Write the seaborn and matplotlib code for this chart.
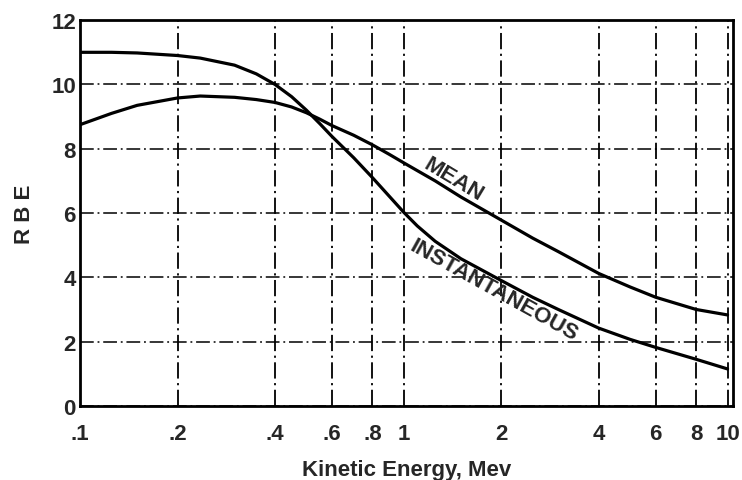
import matplotlib
matplotlib.use("Agg")
import matplotlib.pyplot as plt
import seaborn as sns
import pandas as pd

energy = [0.1, 0.125, 0.15, 0.2, 0.235, 0.3, 0.35, 0.4, 0.45, 0.5, 0.55, 0.6, 0.7, 0.8, 0.9, 1.0, 1.1, 1.25, 1.5, 2.0, 2.5, 3.0, 4.0, 5.0, 6.0, 8.0, 10.0]
mean_rbe = [8.75, 9.1, 9.35, 9.58, 9.64, 9.6, 9.53, 9.44, 9.3, 9.12, 8.92, 8.72, 8.42, 8.12, 7.83, 7.56, 7.32, 7.0, 6.5, 5.78, 5.22, 4.8, 4.12, 3.7, 3.38, 3.0, 2.83]
inst_rbe = [11.0, 11.0, 10.98, 10.9, 10.82, 10.6, 10.33, 10.0, 9.62, 9.2, 8.78, 8.38, 7.72, 7.1, 6.53, 6.02, 5.6, 5.12, 4.58, 3.9, 3.38, 3.0, 2.42, 2.07, 1.82, 1.45, 1.15]

xticks = [0.1, 0.2, 0.4, 0.6, 0.8, 1, 2, 4, 6, 8, 10]
xtick_labels = [".1", ".2", ".4", ".6", ".8", "1", "2", "4", "6", "8", "10"]
yticks = [0, 2, 4, 6, 8, 10, 12]

df = pd.DataFrame({
    "energy": energy * 2,
    "rbe": mean_rbe + inst_rbe,
    "curve": ["MEAN"] * len(energy) + ["INSTANTANEOUS"] * len(energy),
})

sns.set_style("white")
plt.rcParams["font.family"] = ["Liberation Sans", "DejaVu Sans"]
plt.rcParams["font.weight"] = "bold"

fig = plt.figure(figsize=(7.42, 4.81), dpi=100)
ax = fig.add_axes([0.108, 0.154, 0.880, 0.802])

sns.lineplot(data=df, x="energy", y="rbe", hue="curve",
             palette={"MEAN": "black", "INSTANTANEOUS": "black"},
             linewidth=2.3, legend=False, ax=ax, sort=False, estimator=None)

ax.set_xscale("log")
ax.set_xlim(0.1, 10.4)
ax.set_ylim(0, 12)
ax.set_xticks(xticks)
ax.set_xticklabels(xtick_labels)
ax.minorticks_off()
ax.set_yticks(yticks)
ax.tick_params(axis="both", length=0, labelsize=16)
ax.tick_params(axis="x", pad=12)
ax.tick_params(axis="y", pad=3)

for t in xticks:
    ax.axvline(t, color="black", lw=1.3, ls=(0, (9, 2.5, 1.2, 2.5)), zorder=0.5)
for t in yticks:
    ax.axhline(t, color="black", lw=1.1, ls=(0, (9, 2.5, 1.2, 2.5)), zorder=0.5)

for s in ax.spines.values():
    s.set_linewidth(2.0)
    s.set_color("black")

ax.set_xlabel("Kinetic Energy, Mev", fontsize=16, fontweight="bold", labelpad=11)
ax.set_ylabel("R B E", fontsize=16, fontweight="bold", labelpad=12)

ax.text(1.42, 7.05, "MEAN", rotation=-31, fontsize=16, fontweight="bold",
        ha="center", va="center")
ax.text(1.9, 3.6, "INSTANTANEOUS", rotation=-29, fontsize=16, fontweight="bold",
        ha="center", va="center")

fig.savefig("out.png", dpi=100)
